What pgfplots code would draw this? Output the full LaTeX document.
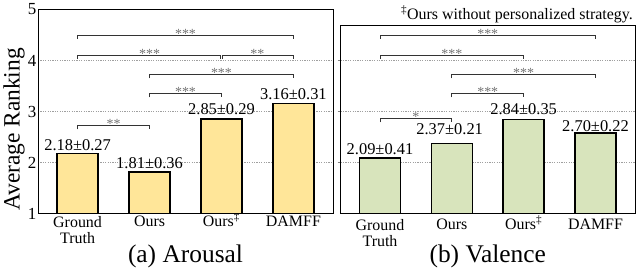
\documentclass[border=0pt]{standalone}
\usepackage{fontspec}
\setmainfont{Liberation Serif}
\usepackage{pgfplots}
\pgfplotsset{compat=1.18}
\definecolor{barY}{RGB}{255,230,153}
\definecolor{barG}{RGB}{216,228,188}
\pgfplotsset{
  myaxis/.style={
    scale only axis, width=295bp,
    xmin=-0.55, xmax=3.55, ymin=1,
    xtick={0,1,2,3},
    xticklabels={{Ground\\Truth},Ours,{Ours\smash{\textsuperscript{\ddag}}},DAMFF},
    xticklabel style={font=\fontsize{16}{16}\selectfont, align=center, inner sep=2.5bp, anchor=north},
    xtick style={draw=none},
    axis line style={line width=0.9bp},
    ymajorgrids, grid style={dash pattern=on 1.2bp off 1.2bp, gray!75, line width=0.7bp},
    /pgf/number format/assume math mode=true,
    xlabel style={font=\fontsize{25.5}{28}\selectfont, at={(axis description cs:0.5,0)}, anchor=base, yshift=-49bp},
    clip mode=individual,
  },
  brk/.style={black!80, line width=0.7bp, no marks, sharp plot, forget plot},
}
\tikzset{
  star/.style={font=\fontsize{14}{14}\selectfont, text=black!55, anchor=base, yshift=-3.5bp, inner sep=0pt},
  vl/.style={font=\fontsize{16.5}{16.5}\selectfont, anchor=center, inner sep=0pt},
}
\begin{document}
\begin{tikzpicture}
\path[use as bounding box] (0,0) rectangle (636bp,268bp);
% ---------------- (a) Arousal
\begin{axis}[myaxis, at={(38bp,54.5bp)}, anchor=south west, height=204bp,
  ymax=5, ytick={1,2,3,4,5}, yticklabels={1,2,3,4,5}, major tick length=0pt,
  yticklabel style={font=\fontsize{17}{17}\selectfont, inner sep=1.5bp},
  ylabel={Average Ranking},
  ylabel style={font=\fontsize{23.5}{24}\selectfont, at={([xshift=-24bp,yshift=-18bp]axis description cs:0,0.5)}, anchor=center},
  xlabel={(a) Arousal}]
\addplot[ybar, bar width=0.57, fill=barY, draw=black, line width=1.4bp] coordinates {(0,2.18)(1,1.81)(2,2.85)(3,3.16)};
\node[vl] at (axis cs:0,2.343) {2.18±0.27};
\node[vl] at (axis cs:1,1.990) {1.81±0.36};
\node[vl] at (axis cs:2,3.049) {2.85±0.29};
\node[vl] at (axis cs:3,3.343) {3.16±0.31};
% brackets
\addplot[brk] coordinates {(0,2.651)(0,2.729)(1,2.729)(1,2.651)};
\node[star] at (axis cs:0.5,2.729) {**};
\addplot[brk] coordinates {(1,3.279)(1,3.357)(2,3.357)(2,3.279)};
\node[star] at (axis cs:1.5,3.357) {***};
\addplot[brk] coordinates {(1,3.651)(1,3.729)(3,3.729)(3,3.651)};
\node[star] at (axis cs:2,3.729) {***};
\addplot[brk] coordinates {(0,4.030)(0,4.108)(1.985,4.108)(1.985,4.030)};
\node[star] at (axis cs:1,4.108) {***};
\addplot[brk] coordinates {(2.015,4.030)(2.015,4.108)(3,4.108)(3,4.030)};
\node[star] at (axis cs:2.5,4.108) {**};
\addplot[brk] coordinates {(0,4.422)(0,4.500)(3,4.500)(3,4.422)};
\node[star] at (axis cs:1.5,4.500) {***};
\end{axis}
% ---------------- (b) Valence
\begin{axis}[myaxis, at={(340.5bp,54.5bp)}, anchor=south west, width=294.5bp, height=188.5bp,
  ymax=4.696, ytick={2,3,4}, yticklabels={}, tick align=outside, major tick length=3bp,
  ytick style={line width=0.8bp},
  xlabel={(b) Valence}]
\addplot[ybar, bar width=0.57, fill=barG, draw=black, line width=1.4bp] coordinates {(0,2.09)(1,2.37)(2,2.84)(3,2.58)};
\node[vl] at (axis cs:0,2.255) {2.09±0.41};
\node[vl] at (axis cs:0.97,2.647) {2.37±0.21};
\node[vl] at (axis cs:2,3.039) {2.84±0.35};
\node[vl] at (axis cs:3,2.716) {2.70±0.22};
\addplot[brk] coordinates {(0,2.789)(0,2.867)(1,2.867)(1,2.789)};
\node[star] at (axis cs:0.5,2.867) {*};
\addplot[brk] coordinates {(1,3.279)(1,3.357)(2,3.357)(2,3.279)};
\node[star] at (axis cs:1.5,3.357) {***};
\addplot[brk] coordinates {(1,3.651)(1,3.729)(3,3.729)(3,3.651)};
\node[star] at (axis cs:2,3.729) {***};
\addplot[brk] coordinates {(0,4.030)(0,4.108)(2,4.108)(2,4.030)};
\node[star] at (axis cs:1,4.108) {***};
\addplot[brk] coordinates {(0,4.422)(0,4.500)(3,4.500)(3,4.422)};
\node[star] at (axis cs:1.5,4.500) {***};
\end{axis}
\node[anchor=base east, font=\fontsize{16}{16}\selectfont, inner sep=0pt] at (633bp,248bp) {\textsuperscript{\ddag}Ours without personalized strategy.};
\end{tikzpicture}
\end{document}
